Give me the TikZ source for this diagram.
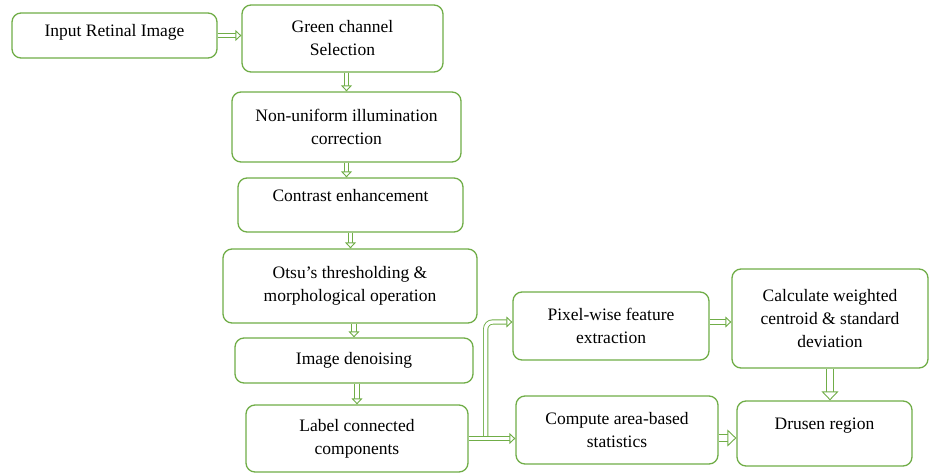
\documentclass[tikz,border=0pt]{standalone}
\usepackage{fontspec}
\setmainfont{Liberation Serif}
\usetikzlibrary{arrows.meta}
\definecolor{G}{RGB}{112,173,71}
\newcommand\bfs{\fontsize{17.5}{23}\selectfont}
\tikzset{
  box/.style={draw=G, line width=1.3pt, rounded corners=9pt, fill=white,
    align=center, font=\bfs, inner sep=0pt},
  harrow/.style={draw=G, line width=0.9pt, double=white, double distance=3.4pt,
    -{Triangle[fill=white, length=6pt 0 0, width=11pt 0 0, line width=0.9pt]}},
  bigarrow/.style={draw=G, line width=0.9pt, double=white, double distance=6pt,
    -{Triangle[fill=white, length=9pt 0 0, width=17pt 0 0, line width=0.9pt]}}
}
\begin{document}
\begin{tikzpicture}[x=1pt,y=-1pt]
\useasboundingbox (0,0) rectangle (930,474);
\node[box, minimum width=205pt, minimum height=45pt, text height=12pt, text depth=11pt] (inp) at (114.5,35.5) {Input Retinal Image};
\node[box, minimum width=201pt, minimum height=67pt] (grn) at (342.5,38.5) {Green channel\\Selection};
\node[box, minimum width=229pt, minimum height=70pt] (non) at (346.5,127) {Non-uniform illumination\\correction};
\node[box, minimum width=225pt, minimum height=54pt, text height=12pt, text depth=20pt] (con) at (350.5,205) {Contrast enhancement};
\node[box, minimum width=254pt, minimum height=74pt] (ots) at (350,286) {Otsu’s thresholding \&\\morphological operation};
\node[box, minimum width=238pt, minimum height=45pt, text height=12pt, text depth=4pt] (den) at (354,360.5) {Image denoising};
\node[box, minimum width=222pt, minimum height=67pt] (lab) at (357,438.5) {Label connected\\components};
\node[box, minimum width=196pt, minimum height=68pt] (pix) at (611,326) {Pixel-wise feature\\extraction};
\node[box, minimum width=202pt, minimum height=68pt] (cmp) at (617,430) {Compute area-based\\statistics};
\node[box, minimum width=196pt, minimum height=99pt] (cal) at (830,318.5) {Calculate weighted\\centroid \& standard\\deviation};
\node[box, minimum width=175pt, minimum height=65pt, text height=12pt, text depth=21pt] (dru) at (824.5,433.5) {Drusen region};
\coordinate (split) at ([xshift=17pt]lab.east);
% connectors
\draw[harrow] (inp.east) -- (inp.east -| grn.west);
\draw[harrow] (grn.south -| non.north) -- (non.north);
\draw[harrow] (non.south) -- (non.south |- con.north);
\draw[harrow] (con.south) -- (con.south |- ots.north);
\draw[harrow] (ots.south -| den.north) -- (den.north);
\draw[harrow] (den.south -| lab.north) -- (lab.north);
\draw[harrow, rounded corners=7pt] (split) |- ([yshift=4pt]pix.west);
\draw[harrow] (lab.east) -- (lab.east -| cmp.west);
\draw[harrow] ([yshift=4pt]pix.east) -- ([yshift=4pt]pix.east -| cal.west);
\draw[bigarrow] ([yshift=-8pt]cmp.east) -- ([yshift=-8pt]cmp.east -| dru.west);
\draw[bigarrow] (cal.south) -- (cal.south |- dru.north);
\end{tikzpicture}
\end{document}
